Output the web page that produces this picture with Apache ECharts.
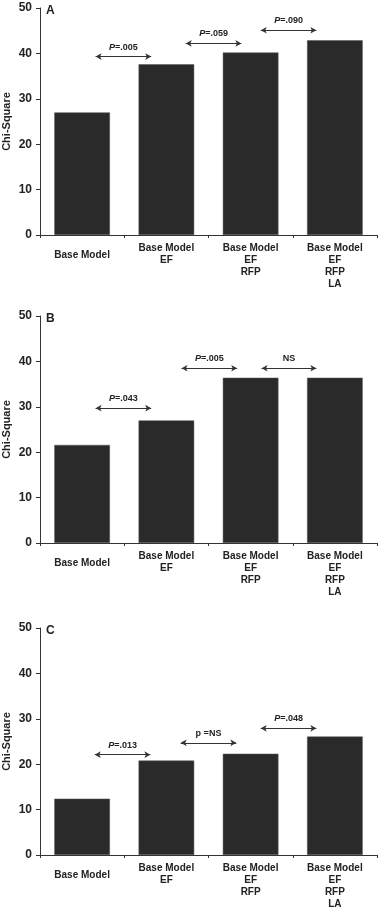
<!DOCTYPE html>
<html>
<head>
<meta charset="utf-8">
<script src="https://cdn.jsdelivr.net/npm/echarts@6/dist/echarts.min.js"></script>
<style>
html,body{margin:0;padding:0;background:#fff;}
#chart{width:378px;height:910px;}
</style>
</head>
<body>
<div id="chart"></div>
<script>
// ---- data ----
var categories = ['Base Model', 'Base Model\nEF', 'Base Model\nEF\nRFP', 'Base Model\nEF\nRFP\nLA'];
var panelLetters = ['A', 'B', 'C'];
var yTickValues = [0, 10, 20, 30, 40, 50];
var valuesA = [27.0, 37.6, 40.2, 42.9];
var valuesB = [21.6, 27.0, 36.4, 36.4];
var valuesC = [12.4, 20.8, 22.3, 26.1];
// comparison arrows: [startIndex, endIndex, level]
var arrowsA = [[0.16, 0.82, 39.3], [1.23, 1.89, 42.2], [2.12, 2.78, 45.1]];
var arrowsB = [[0.16, 0.82, 29.7], [1.18, 1.84, 38.5], [2.13, 2.78, 38.5]];
var arrowsC = [[0.15, 0.81, 22.1], [1.17, 1.83, 24.7], [2.12, 2.78, 27.9]];
var labelsA = ['{i|P}{n|=.005}', '{i|P}{n|=.059}', '{i|P}{n|=.090}'];
var labelsB = ['{i|P}{n|=.043}', '{i|P}{n|=.005}', '{n|NS}'];
var labelsC = ['{i|P}{n|=.013}', '{n|p =NS}', '{i|P}{n|=.048}'];

var values = [valuesA, valuesB, valuesC];
var arrows = [arrowsA, arrowsB, arrowsC];
var arrowLabels = [labelsA, labelsB, labelsC];

var FONT = '"Liberation Sans", Arial, Helvetica, sans-serif';
var gridTops = [8, 316, 628];
var GRID_H = 227;

var chart = echarts.init(document.getElementById('chart'), null, {renderer: 'canvas'});

var grids = [], xAxes = [], yAxes = [], series = [], titles = [];
for (var p = 0; p < 3; p++) {
  grids.push({left: 40, right: 1, top: gridTops[p], height: GRID_H, containLabel: false, outerBoundsMode: 'none'});
  titles.push({
    text: panelLetters[p], left: 41, top: gridTops[p] - 8, padding: 5,
    textStyle: {fontFamily: FONT, fontSize: 12, fontWeight: 'bold', color: '#222'}
  });
  xAxes.push({
    type: 'category', gridIndex: p, data: categories, boundaryGap: true,
    axisLine: {lineStyle: {color: '#333', width: 1}},
    axisTick: {show: true, length: 3, inside: false, lineStyle: {color: '#333'}},
    axisLabel: {
      interval: 0, margin: 7, fontFamily: FONT, fontSize: 10, fontWeight: 'bold',
      color: '#222', lineHeight: 12,
      formatter: function (v, i) { return i === 0 ? '{d|' + v + '}' : v; },
      rich: {d: {fontFamily: FONT, fontSize: 10, fontWeight: 'bold', color: '#222', lineHeight: 12, padding: [14, 0, 0, 0]}}
    },
    splitLine: {show: false}
  });
  yAxes.push({
    type: 'value', gridIndex: p, min: yTickValues[0], max: yTickValues[yTickValues.length - 1], interval: 10,
    name: 'Chi-Square', nameLocation: 'middle', nameGap: 28, nameRotate: 90, nameMoveOverlap: false,
    nameTextStyle: {fontFamily: FONT, fontSize: 11, fontWeight: 'bold', color: '#222'},
    axisLine: {show: true, onZero: false, lineStyle: {color: '#333', width: 1}},
    axisTick: {show: true, length: 4, inside: false, lineStyle: {color: '#333'}},
    axisLabel: {margin: 8, fontFamily: FONT, fontSize: 12, fontWeight: 'bold', color: '#222'},
    splitLine: {show: false}
  });
  series.push({
    type: 'bar', xAxisIndex: p, yAxisIndex: p, data: values[p],
    barWidth: '66%',
    itemStyle: {color: '#2a2a2a', borderColor: '#555', borderWidth: 0.5},
    silent: true, animation: false
  });
}
// hidden numeric x axes for the comparison arrows
for (var q = 0; q < 3; q++) {
  xAxes.push({type: 'value', gridIndex: q, min: -0.5, max: 3.5, show: false, axisLine: {onZero: false}});
  var mlData = arrows[q].map(function (a, k) {
    return [
      {coord: [a[0], a[2]], label: {formatter: arrowLabels[q][k]}},
      {coord: [a[1], a[2]]}
    ];
  });
  series.push({
    type: 'line', xAxisIndex: 3 + q, yAxisIndex: q, data: [],
    silent: true, animation: false,
    markLine: {
      silent: true, animation: false,
      symbol: ['arrow', 'arrow'], symbolSize: [5, 6],
      lineStyle: {color: '#333', width: 1, type: 'solid'},
      label: {
        show: true, position: 'middle', distance: 5,
        rich: {
          i: {fontFamily: FONT, fontSize: 9, fontWeight: 'bold', fontStyle: 'italic', color: '#222'},
          n: {fontFamily: FONT, fontSize: 9, fontWeight: 'bold', color: '#222'}
        }
      },
      emphasis: {disabled: true},
      data: mlData
    }
  });
}

chart.setOption({
  animation: false,
  backgroundColor: '#fff',
  title: titles,
  grid: grids,
  xAxis: xAxes,
  yAxis: yAxes,
  series: series
});
</script>
</body>
</html>
